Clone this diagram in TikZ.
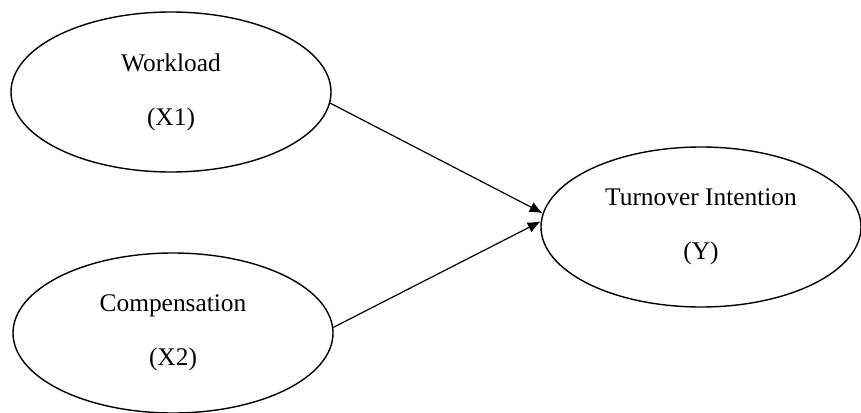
\documentclass[tikz,border=0pt]{standalone}
\usepackage{fontspec}
\setmainfont{Liberation Serif}
\usetikzlibrary{arrows,arrows.meta,positioning,shapes}

\begin{document}
\begin{tikzpicture}[x=0.5pt, y=-0.5pt, construct/.style={draw, ellipse, line width=0.7pt, minimum width=160pt, minimum height=80pt, inner sep=0pt, align=center, text=black, font=\fontsize{12.7}{27}\selectfont}]
                        \useasboundingbox (0,0) rectangle (861,412);
                        \node[construct] (x1) at (171,92) {Workload\\(X1)};
                        \node[construct] (x2) at (173,333) {Compensation\\(X2)};
                        \node[construct] (y) at (701,227) {Turnover Intention\\(Y)};
                        \draw [-{Latex[length=6.5pt,width=5.5pt]}, line width=0.6pt] (x1.-4) -- (y.175);
                        \draw [-{Latex[length=6.5pt,width=5.5pt]}, line width=0.6pt] (x2.2) -- (y.178);
                        \end{tikzpicture}
\end{document}
